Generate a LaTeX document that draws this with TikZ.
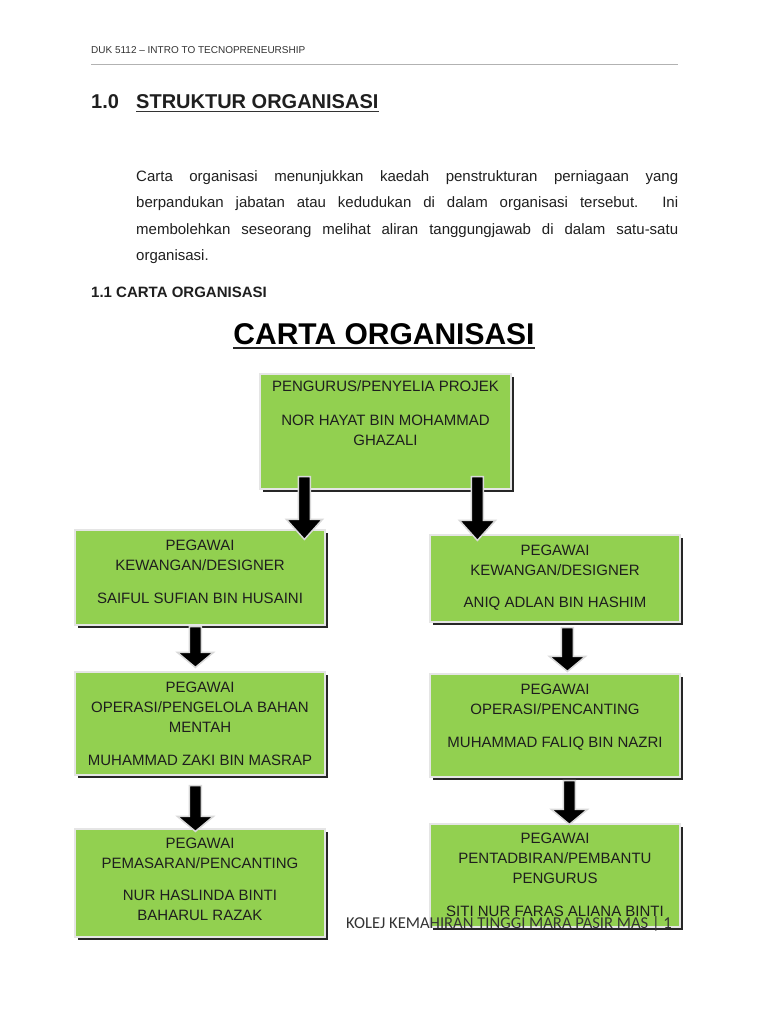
\documentclass[tikz,border=0pt]{standalone}
\usepackage{fontspec}
\setmainfont{Liberation Sans}
\newfontfamily\footfont{Carlito}
\usetikzlibrary{calc,shadows}
\definecolor{boxgreen}{HTML}{92D050}
\definecolor{txt}{HTML}{1E1E1E}
\tikzset{
 orgbox/.style={rectangle, fill=boxgreen, draw=white!90!black, line width=1.2pt, inner sep=0,
   drop shadow={shadow xshift=2.5pt, shadow yshift=-2.5pt, fill=black!85, opacity=1}},
 boxtext/.style={anchor=base, align=center, inner sep=0, text=txt, font=\fontsize{15}{20}\selectfont},
 blockarr/.style={fill=black, draw=black!15, line width=1.5pt, line join=miter},
 plaintext/.style={inner sep=0, text=black!88},
 uline/.style={black!80, line width=1.3pt},
}
\newcommand\blockarrow[3]{\draw[blockarr] let \p1=(#1), \p2=(#2) in
  (\x1-6pt,\y1) -- (\x1+6pt,\y1) -- (\x1+6pt,\y2+#3) -- (\x1+18pt,\y2+#3) -- (\x1,\y2)
  -- (\x1-18pt,\y2+#3) -- (\x1-6pt,\y2+#3) -- cycle;}
\begin{document}
\begin{tikzpicture}[x=1pt,y=-1pt]
\fill[white] (0,0) rectangle (768,1024);
\useasboundingbox (0,0) rectangle (768,1024);

% header
\node[plaintext, anchor=base west, font=\fontsize{10}{12}\selectfont, text=black!80] (hdr) at (91,54) {DUK 5112 -- INTRO TO TECNOPRENEURSHIP};
\coordinate (hl1) at (91,64);
\coordinate (hl2) at (678,64);
\draw[black!30, line width=0.8pt] (hl1) -- (hl2);

\node[plaintext, anchor=base west, font=\bfseries\fontsize{20}{22}\selectfont] (num) at (91,109) {1.0};
\node[plaintext, anchor=base west, font=\bfseries\fontsize{20}{22}\selectfont] (sec) at (136,109) {STRUKTUR ORGANISASI};
\draw[uline] ([yshift=-2.5pt]sec.base west) -- ([yshift=-2.5pt]sec.base east);

% paragraph
\node[plaintext, anchor=base west, font=\fontsize{15}{18}\selectfont] (p1) at (136,182) {\makebox[542pt][s]{Carta organisasi menunjukkan kaedah penstrukturan perniagaan yang}};
\node[plaintext, anchor=base west, font=\fontsize{15}{18}\selectfont] (p2) at (136,208) {\makebox[542pt][s]{berpandukan jabatan atau kedudukan di dalam organisasi tersebut.\ \ Ini}};
\node[plaintext, anchor=base west, font=\fontsize{15}{18}\selectfont] (p3) at (136,234) {\makebox[542pt][s]{membolehkan seseorang melihat aliran tanggungjawab di dalam satu-satu}};
\node[plaintext, anchor=base west, font=\fontsize{15}{18}\selectfont] (p4) at (136,260) {organisasi.};

\node[plaintext, anchor=base west, font=\bfseries\fontsize{15}{18}\selectfont] (sub) at (91,297) {1.1 CARTA ORGANISASI};

\node[plaintext, anchor=base, font=\bfseries\fontsize{30}{34}\selectfont, text=black] (title) at (384,344) {CARTA ORGANISASI};
\draw[black!85, line width=2pt] ([yshift=-4pt]title.base west) -- ([yshift=-4pt]title.base east);

% boxes
\node[orgbox, minimum width=251pt, minimum height=115pt] (top) at (385.5,431.5) {};
\node[orgbox, minimum width=250pt, minimum height=95pt] (L1) at (200,577.5) {};
\node[orgbox, minimum width=250pt, minimum height=87pt] (R1) at (555,578.5) {};
\node[orgbox, minimum width=250pt, minimum height=103pt] (L2) at (200,723.5) {};
\node[orgbox, minimum width=250pt, minimum height=103pt] (R2) at (555,725.5) {};
\node[orgbox, minimum width=250pt, minimum height=108pt] (L3) at (200,883) {};
\node[orgbox, minimum width=250pt, minimum height=103pt] (R3) at (555,875.5) {};

% box texts (base = last line)
\node[boxtext] (tTop) at (385.5,445.5) {PENGURUS/PENYELIA PROJEK\\[14pt]NOR HAYAT BIN MOHAMMAD\\GHAZALI};
\node[boxtext] (tL1) at (200,603.5) {PEGAWAI\\KEWANGAN/DESIGNER\\[13pt]SAIFUL SUFIAN BIN HUSAINI};
\node[boxtext] (tR1) at (555,607.5) {PEGAWAI\\KEWANGAN/DESIGNER\\[12pt]ANIQ ADLAN BIN HASHIM};
\node[boxtext] (tL2) at (200,765.5) {PEGAWAI\\OPERASI/PENGELOLA BAHAN\\MENTAH\\[13pt]MUHAMMAD ZAKI BIN MASRAP};
\node[boxtext] (tR2) at (555,747.5) {PEGAWAI\\OPERASI/PENCANTING\\[13pt]MUHAMMAD FALIQ BIN NAZRI};
\node[boxtext] (tL3) at (200,920.5) {PEGAWAI\\PEMASARAN/PENCANTING\\[12pt]NUR HASLINDA BINTI\\BAHARUL RAZAK};
\node[boxtext] (tR3) at (555,916.5) {PEGAWAI\\PENTADBIRAN/PEMBANTU\\PENGURUS\\[13pt]SITI NUR FARAS ALIANA BINTI};

% arrows
\coordinate (a1s) at ($(top.south west)+(45,-13)$);
\coordinate (a1e) at ($(a1s |- L1.north)+(0,10)$);
\coordinate (a2s) at ($(top.south west)+(218,-13)$);
\coordinate (a2e) at ($(a2s |- R1.north)+(0,6)$);
\coordinate (a3s) at ($(L1.south west)+(121,1)$);
\coordinate (a3e) at ($(a3s |- L2.north)+(0,-4)$);
\coordinate (a4s) at ($(R1.south west)+(138,5)$);
\coordinate (a4e) at ($(a4s |- R2.north)+(0,-2)$);
\coordinate (a5s) at ($(L2.south west)+(121,10)$);
\coordinate (a5e) at ($(a5s |- L3.north)+(0,3)$);
\coordinate (a6s) at ($(R2.south west)+(140,3)$);
\coordinate (a6e) at ($(a6s |- R3.north)+(0,1)$);
\blockarrow{a1s}{a1e}{20pt}
\blockarrow{a2s}{a2e}{20pt}
\blockarrow{a3s}{a3e}{15pt}
\blockarrow{a4s}{a4e}{15pt}
\blockarrow{a5s}{a5e}{15pt}
\blockarrow{a6s}{a6e}{15pt}

% footer
\node[plaintext, anchor=base west, font=\footfont\fontsize{16.6}{19}\selectfont, text=black!80] (foot) at (346,928) {KOLEJ KEMAHIRAN TINGGI MARA PASIR MAS | 1};
\end{tikzpicture}
\end{document}
